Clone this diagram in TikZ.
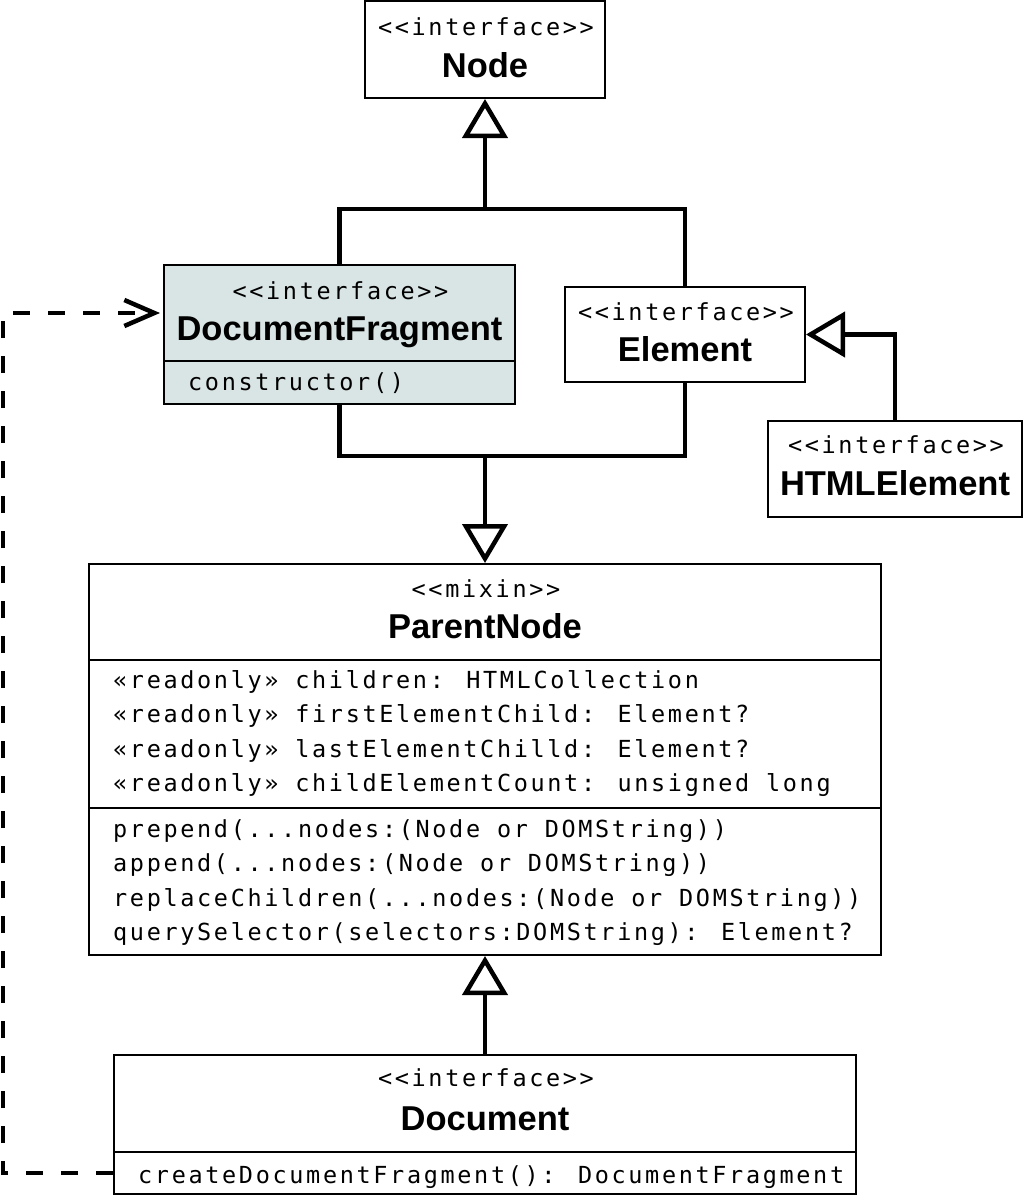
\documentclass[tikz,border=0pt]{standalone}
\usepackage{fontspec}
\usetikzlibrary{arrows.meta}
\newfontfamily\monofnt[LetterSpace=11.3]{DejaVu Sans Mono}
\newfontfamily\titlefnt{Liberation Sans}
\definecolor{fragfill}{RGB}{217,228,228}
\begin{document}
\begin{tikzpicture}[x=1pt,y=-1pt,
  box/.style={draw=black, line width=2pt, rectangle, inner sep=0pt},
  stereo/.style={anchor=base, inner sep=0pt, font=\monofnt\fontsize{23.5}{28}\selectfont},
  title/.style={anchor=base, inner sep=0pt, font=\titlefnt\bfseries\fontsize{34.5}{40}\selectfont},
  member/.style={anchor=base west, inner sep=0pt, font=\monofnt\fontsize{23.5}{28}\selectfont},
  divider/.style={line width=2pt},
  link/.style={line width=4.5pt},
  gen/.style={line width=4.5pt, -{Triangle[open, length=39pt, width=45pt]}},
  dep/.style={line width=4.5pt, dash pattern=on 17pt off 18pt, shorten >=3pt, -{Straight Barb[length=30pt, width=26pt]}}
]
\useasboundingbox (0,0) rectangle (1024,1197);

% boxes
\node[box, minimum width=240pt, minimum height=97pt] (node) at (485,49.5) {};
\node[box, fill=fragfill, minimum width=351pt, minimum height=139pt] (dfrag) at (339.5,334.5) {};
\node[box, minimum width=240pt, minimum height=95pt] (elem) at (685,334.5) {};
\node[box, minimum width=254pt, minimum height=96pt] (html) at (895,469) {};
\node[box, minimum width=792pt, minimum height=391pt] (pnode) at (485,759.5) {};
\node[box, minimum width=742pt, minimum height=139pt] (doc) at (485,1124.5) {};

% Node
\node[stereo] (nodeS) at (486,35) {<{}<interface>{}>};
\node[title] (nodeT) at (485,77) {Node};

% DocumentFragment
\node[stereo] (dfragS) at (340.5,299) {<{}<interface>{}>};
\node[title] (dfragT) at (339.5,340.5) {DocumentFragment};
\draw[divider] (dfrag.west |- 0,361) -- (dfrag.east |- 0,361);
\node[member] (dfragM) at (188,390) {constructor()};

% Element
\node[stereo] (elemS) at (686,320.5) {<{}<interface>{}>};
\node[title] (elemT) at (685,361.5) {Element};

% HTMLElement
\node[stereo] (htmlS) at (896,453) {<{}<interface>{}>};
\node[title] (htmlT) at (895,495) {HTMLElement};

% ParentNode
\node[stereo] (pnodeS) at (486,597) {<{}<mixin>{}>};
\node[title] (pnodeT) at (485,638) {ParentNode};
\draw[divider] (pnode.west |- 0,660) -- (pnode.east |- 0,660);
\node[member] (pa1) at (113,688) {«readonly» children: HTMLCollection};
\node[member] (pa2) at (113,722.5) {«readonly» firstElementChild: Element?};
\node[member] (pa3) at (113,757) {«readonly» lastElementChilld: Element?};
\node[member] (pa4) at (113,791.5) {«readonly» childElementCount: unsigned long};
\draw[divider] (pnode.west |- 0,808) -- (pnode.east |- 0,808);
\node[member] (pm1) at (113,837) {prepend(...nodes:(Node or DOMString))};
\node[member] (pm2) at (113,871.5) {append(...nodes:(Node or DOMString))};
\node[member] (pm3) at (113,906) {replaceChildren(...nodes:(Node or DOMString))};
\node[member] (pm4) at (113,940.5) {querySelector(selectors:DOMString): Element?};

% Document
\node[stereo] (docS) at (486,1086.5) {<{}<interface>{}>};
\node[title] (docT) at (485,1130.5) {Document};
\draw[divider] (doc.west |- 0,1152) -- (doc.east |- 0,1152);
\node[member] (docM) at (138,1183) {createDocumentFragment(): DocumentFragment};

% connectors
\coordinate (jtop) at (485,209);
\coordinate (jbot) at (485,456);
\draw[link] (dfrag.north) |- (jtop) -| (elem.north);
\draw[gen] (jtop) -- (node.south);
\draw[link] (dfrag.south) |- (jbot) -| (elem.south);
\draw[gen] (jbot) -- (pnode.north);
\draw[gen] (html.north) |- (elem.east);
\draw[gen] (doc.north) -- (pnode.south);

\coordinate (dBL) at (3,1173);
\coordinate (dTL) at (3,313);
\draw[dep] (doc.west |- dBL) -- (dBL) -- (dTL) -- (dfrag.west |- dTL);
\end{tikzpicture}
\end{document}
